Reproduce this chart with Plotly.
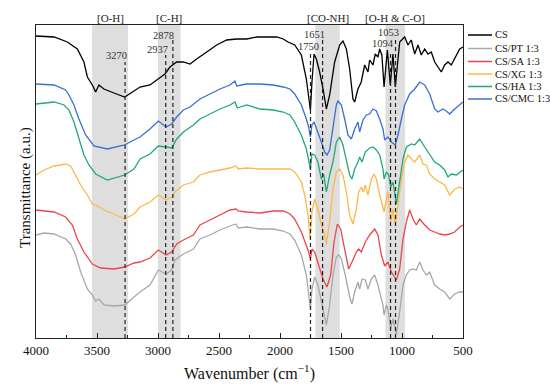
import plotly.graph_objects as go

# ---------------- data ----------------
series_names = ["CS", "CS/PT 1:3", "CS/SA 1:3", "CS/XG 1:3", "CS/HA 1:3", "CS/CMC 1:3"]
series_colors = ["#000000", "#a4a9ae", "#e8474c", "#fdb84a", "#21a878", "#3b6fcf"]

wn_cs = [4000, 3852, 3743, 3661, 3607, 3579, 3538, 3511, 3484, 3443, 3361, 3273, 3197, 3147, 3066,
         2997, 2943, 2902, 2847, 2793, 2738, 2683, 2629, 2601, 2519, 2437, 2355, 2273, 2191, 2109,
         2027, 1973, 1934, 1879, 1825, 1784, 1765, 1751, 1738, 1721, 1702, 1675, 1647, 1620, 1593,
         1552, 1511, 1484, 1456, 1429, 1402, 1388, 1361, 1334, 1306, 1279, 1265, 1238, 1219, 1197,
         1183, 1165, 1147, 1120, 1096, 1074, 1055, 1019, 978, 951, 924, 896, 869, 842, 814, 787,
         760, 732, 705, 678, 650, 623, 596, 568, 527, 500]
t_cs = [304, 303, 298, 291, 278, 263, 255, 248, 255, 251, 247, 243, 249, 253, 255,
        261, 266, 273, 278, 278, 276, 281, 286, 288, 295, 300, 301, 301, 303, 303,
        303, 301, 298, 295, 285, 261, 241, 230, 258, 286, 281, 268, 251, 231, 245,
        278, 295, 299, 291, 271, 241, 238, 251, 258, 275, 268, 280, 275, 286, 283,
        291, 285, 253, 290, 255, 286, 253, 298, 303, 295, 300, 286, 295, 285, 291, 286,
        288, 278, 273, 268, 275, 278, 275, 281, 291, 293]

wn_cmc = [4000, 3852, 3757, 3730, 3689, 3648, 3593, 3525, 3415, 3334, 3273, 3197, 3147, 3066,
          2997, 2934, 2888, 2847, 2792, 2738, 2656, 2574, 2492, 2410, 2369, 2355, 2273, 2164,
          2055, 1973, 1918, 1880, 1825, 1784, 1765, 1751, 1738, 1721, 1689, 1661, 1634, 1615,
          1593, 1566, 1538, 1525, 1497, 1470, 1443, 1415, 1388, 1361, 1347, 1320, 1292, 1265,
          1238, 1210, 1183, 1156, 1142, 1115, 1087, 1055, 1033, 1005, 978, 937, 896, 855, 814,
          773, 732, 705, 664, 637, 609, 568, 527, 500]
t_cmc = [256, 255, 250, 245, 235, 221, 205, 194, 191, 193, 195, 200, 203, 211,
         219, 213, 216, 223, 230, 233, 241, 246, 251, 255, 259, 254, 256, 256,
         255, 253, 251, 246, 235, 221, 213, 203, 215, 218, 208, 198, 188, 185,
         190, 211, 235, 239, 235, 221, 205, 201, 211, 218, 208, 220, 225, 226,
         231, 229, 221, 211, 200, 203, 198, 195, 205, 221, 235, 246, 251, 258, 255,
         246, 231, 228, 231, 229, 226, 231, 235, 238]

wn_ha = [4000, 3852, 3770, 3730, 3689, 3648, 3607, 3566, 3511, 3415, 3334, 3273, 3197, 3147,
         3066, 2997, 2934, 2888, 2847, 2792, 2710, 2656, 2574, 2492, 2410, 2369, 2350, 2273,
         2164, 2055, 1973, 1918, 1880, 1825, 1784, 1765, 1751, 1738, 1716, 1689, 1661, 1642,
         1620, 1593, 1566, 1538, 1511, 1484, 1456, 1429, 1410, 1388, 1361, 1347, 1328, 1301,
         1265, 1238, 1210, 1183, 1156, 1147, 1128, 1109, 1093, 1074, 1046, 1019, 992, 964,
         923, 896, 855, 814, 773, 732, 691, 650, 623, 596, 555, 514, 500]
t_ha = [236, 238, 235, 230, 218, 201, 185, 175, 166, 160, 163, 165, 171, 181,
        186, 194, 193, 192, 201, 208, 215, 221, 226, 231, 235, 238, 232, 235,
        231, 230, 228, 225, 218, 205, 191, 181, 171, 186, 185, 178, 161, 166,
        148, 165, 178, 198, 203, 195, 178, 165, 161, 171, 178, 183, 178, 188,
        192, 193, 190, 185, 171, 161, 168, 165, 153, 158, 136, 158, 181, 193,
        196, 195, 201, 193, 186, 178, 175, 170, 163, 166, 165, 169, 170]

wn_xg = [4000, 3934, 3852, 3757, 3716, 3675, 3634, 3579, 3538, 3511, 3443, 3361, 3273, 3197,
         3147, 3066, 2997, 2934, 2888, 2861, 2792, 2710, 2656, 2574, 2492, 2410, 2361, 2342,
         2273, 2164, 2055, 1973, 1918, 1880, 1825, 1798, 1770, 1754, 1738, 1716, 1689, 1661,
         1634, 1620, 1593, 1566, 1538, 1511, 1484, 1456, 1429, 1402, 1374, 1355, 1333, 1317,
         1301, 1279, 1251, 1230, 1210, 1183, 1156, 1147, 1128, 1115, 1093, 1074, 1055, 1033,
         1005, 978, 951, 923, 896, 855, 828, 800, 773, 732, 691, 650, 609, 568, 527, 500]
t_xg = [165, 170, 174, 176, 174, 165, 155, 145, 136, 135, 130, 126, 121, 126,
        133, 138, 145, 140, 143, 148, 155, 158, 165, 168, 170, 172, 174, 171,
        172, 171, 171, 171, 171, 168, 158, 145, 125, 101, 128, 141, 131, 115,
        105, 96, 118, 151, 168, 171, 165, 148, 125, 116, 131, 148, 153, 148,
        155, 145, 161, 166, 161, 145, 131, 128, 141, 148, 118, 131, 115, 135,
        161, 178, 185, 181, 178, 185, 176, 175, 166, 161, 158, 155, 145, 151, 153, 151]

wn_sa = [4000, 3852, 3757, 3702, 3661, 3607, 3538, 3470, 3361, 3273, 3197, 3147, 3066, 2997,
         2934, 2888, 2847, 2792, 2710, 2656, 2574, 2492, 2410, 2361, 2342, 2273, 2164, 2055,
         1973, 1918, 1880, 1825, 1784, 1765, 1751, 1738, 1716, 1689, 1648, 1615, 1585, 1557,
         1530, 1503, 1470, 1437, 1410, 1374, 1355, 1333, 1301, 1265, 1224, 1197, 1169, 1142,
         1115, 1087, 1046, 1019, 992, 964, 937, 910, 882, 855, 814, 773, 732, 691, 650, 609,
         568, 527, 500]
t_sa = [130, 128, 123, 115, 101, 88, 76, 72, 71, 73, 77, 78, 82, 90,
        85, 88, 96, 100, 105, 115, 120, 125, 130, 131, 129, 128, 127, 129,
        129, 126, 121, 108, 95, 88, 81, 91, 88, 78, 61, 53, 65, 98,
        116, 111, 91, 71, 78, 88, 91, 88, 98, 105, 111, 105, 85, 74,
        78, 68, 60, 71, 101, 118, 130, 121, 115, 121, 115, 110, 108, 106, 105, 106,
        108, 113, 115]

wn_pt = [4000, 3934, 3852, 3757, 3716, 3675, 3634, 3579, 3538, 3511, 3484, 3443, 3361, 3273,
         3197, 3147, 3066, 2997, 2934, 2888, 2861, 2792, 2710, 2656, 2574, 2492, 2410, 2361,
         2342, 2273, 2164, 2055, 1973, 1918, 1880, 1825, 1784, 1765, 1751, 1738, 1716, 1689,
         1661, 1634, 1620, 1593, 1566, 1538, 1519, 1497, 1465, 1429, 1410, 1388, 1361, 1347,
         1328, 1301, 1279, 1251, 1224, 1197, 1169, 1156, 1147, 1128, 1115, 1093, 1074, 1046,
         1019, 992, 964, 937, 910, 882, 855, 828, 800, 773, 732, 691, 650, 609, 568, 527, 500]
t_pt = [105, 107, 106, 101, 96, 85, 68, 51, 45, 39, 41, 35, 34, 35,
        43, 48, 55, 70, 66, 70, 80, 86, 91, 101, 105, 110, 114, 116,
        112, 113, 111, 111, 109, 106, 100, 85, 65, 45, 31, 51, 63, 55,
        38, 25, 15, 35, 65, 83, 85, 81, 65, 43, 36, 48, 58, 51,
        61, 60, 51, 61, 65, 55, 41, 35, 25, 35, 31, 11, 21, 6,
        28, 55, 65, 70, 71, 70, 78, 70, 65, 68, 55, 51, 48, 41, 46, 48, 48]

series_wn = [wn_cs, wn_pt, wn_sa, wn_xg, wn_ha, wn_cmc]
series_t = [t_cs, t_pt, t_sa, t_xg, t_ha, t_cmc]

band_lo = [3245, 2815, 1510, 975]
band_hi = [3540, 3000, 1710, 1135]
band_labels = ["[O-H]", "[C-H]", "[CO-NH]", "[O-H &amp; C-O]"]

peak_wn = [3270, 2937, 2878, 1750, 1651, 1094, 1053]
peak_top = [278, 285, 300, 286, 300, 288, 300]
peak_label_x = [3343, 3004, 2951, 1770, 1721, 1156, 1111]
peak_label_y = [285, 291, 305, 294, 305.5, 297, 307.5]

x_ticks = [4000, 3500, 3000, 2500, 2000, 1500, 1000, 500]

# ---------------- figure ----------------
FONT = "Liberation Serif, Times New Roman, serif"
L, R, T, B = 36, 463, 25, 338
W, H = 550, 388
Y0, Y1 = 2, 315

fig = go.Figure()

for lo, hi in zip(band_lo, band_hi):
    fig.add_shape(type="rect", xref="x", yref="paper", x0=lo, x1=hi, y0=0, y1=1,
                  fillcolor="#dedede", line=dict(width=0), layer="below")

for wn, top in zip(peak_wn, peak_top):
    fig.add_shape(type="line", xref="x", yref="y", x0=wn, x1=wn, y0=Y0, y1=top,
                  line=dict(color="#222222", width=1.2, dash="4px,3px"), layer="above")

for name, color, wn, t in zip(series_names, series_colors, series_wn, series_t):
    fig.add_trace(go.Scatter(x=wn, y=t, mode="lines", name=name,
                             line=dict(color=color, width=1.3), showlegend=False))

annotations = []
for lo, hi, lab in zip(band_lo, band_hi, band_labels):
    annotations.append(dict(x=(lo + hi) / 2, xref="x", y=(B - 17.5) / (B - T), yref="paper",
                            text=lab, showarrow=False, xanchor="center", yanchor="middle",
                            font=dict(family=FONT, size=11, color="#222222")))
for lx, ly, wn in zip(peak_label_x, peak_label_y, peak_wn):
    annotations.append(dict(x=lx, xref="x", y=ly, yref="y", text=str(wn), showarrow=False,
                            xanchor="center", yanchor="middle",
                            font=dict(family=FONT, size=10.5, color="#333333")))

# manual legend (compact spacing as in reference)
leg_rows = [35, 48.5, 61.5, 74, 86.5, 99]
for (name, color), ry in zip(zip(series_names, series_colors), leg_rows):
    py = (B - ry) / (B - T)
    fig.add_shape(type="line", xref="paper", yref="paper",
                  x0=(468 - L) / (R - L), x1=(492 - L) / (R - L), y0=py, y1=py,
                  line=dict(color=color, width=1.5))
    annotations.append(dict(x=(493 - L) / (R - L), xref="paper", y=py, yref="paper",
                            text=name, showarrow=False, xanchor="left", yanchor="middle",
                            font=dict(family=FONT, size=10.5, color="#111111")))

annotations.append(dict(x=0.5, xref="paper", y=(B - 372) / (B - T), yref="paper",
                        text="Wavenumber (cm<sup>−1</sup>)", showarrow=False,
                        xanchor="center", yanchor="middle",
                        font=dict(family=FONT, size=16, color="#111111")))
annotations.append(dict(x=(25 - L) / (R - L), xref="paper", y=(B - 188) / (B - T), yref="paper",
                        text="Transmittance (a.u.)", showarrow=False, textangle=-90,
                        xanchor="center", yanchor="middle",
                        font=dict(family=FONT, size=15, color="#111111")))

fig.update_layout(
    width=W, height=H,
    margin=dict(l=L, r=W - R, t=T, b=H - B),
    paper_bgcolor="white", plot_bgcolor="white",
    showlegend=False,
    annotations=annotations,
    font=dict(family=FONT, color="#111111"),
)
fig.update_xaxes(range=[4000, 500], tickvals=x_ticks, ticktext=[str(v) for v in x_ticks],
                 ticks="inside", ticklen=5, tickwidth=1, tickcolor="#222222",
                 minor=dict(dtick=250, ticks="inside", ticklen=3, tickcolor="#222222", tick0=500),
                 showline=True, linecolor="#222222", linewidth=1.2, mirror=True,
                 showgrid=False, zeroline=False,
                 tickfont=dict(family=FONT, size=13, color="#111111"))
fig.update_yaxes(range=[Y0, Y1], showticklabels=False, ticks="",
                 showline=True, linecolor="#222222", linewidth=1.2, mirror=True,
                 showgrid=False, zeroline=False)

fig.write_html("out.html", config={"displayModeBar": False},
               post_script="document.body.style.margin='0';document.body.style.padding='0';")
